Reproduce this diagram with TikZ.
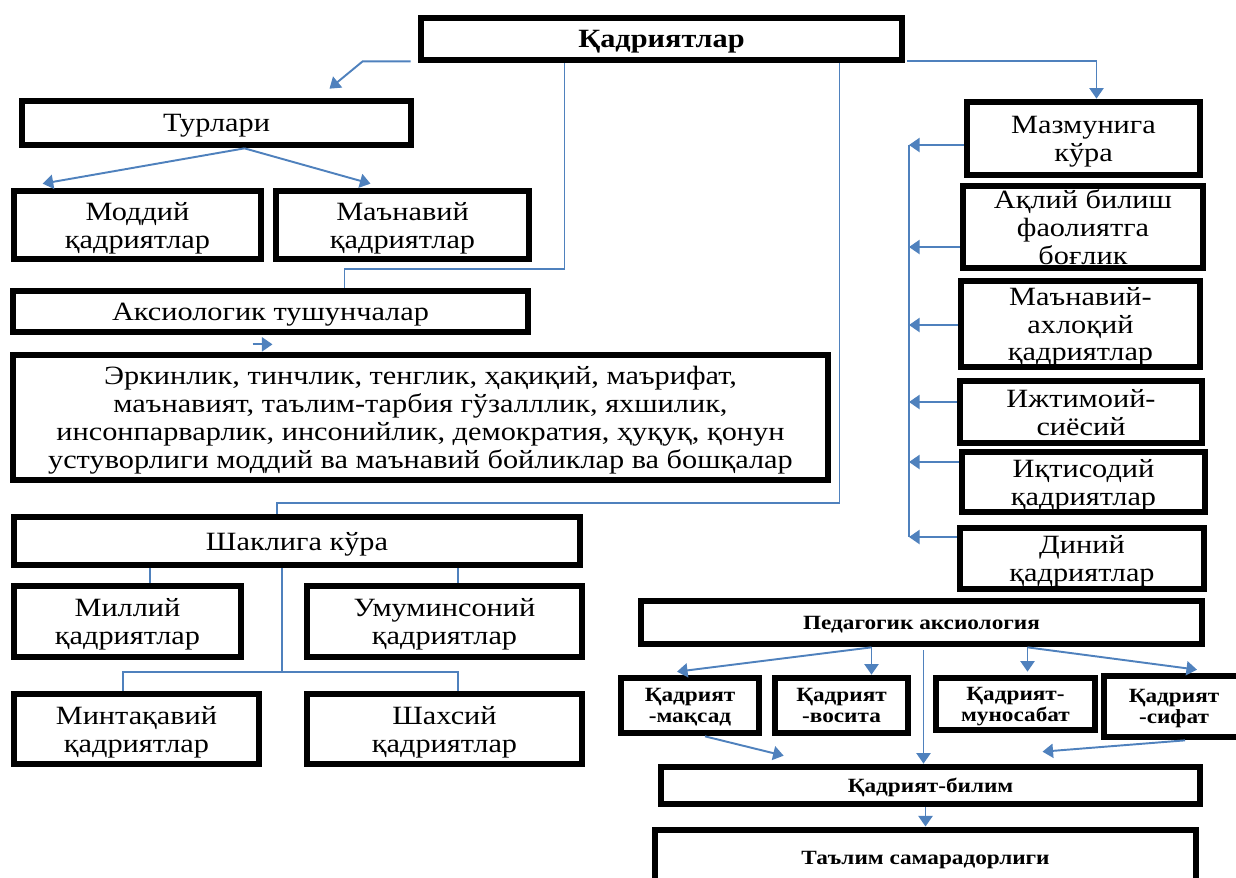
\documentclass[tikz,border=0pt]{standalone}
\usepackage{fontspec}
\setmainfont{Liberation Serif}[FakeStretch=1.15]
\usepackage{tikz}
\usetikzlibrary{arrows.meta,calc}
\definecolor{linkblue}{RGB}{79,129,189}

\begin{document}
\begin{tikzpicture}[x=0.02cm,y=-0.02cm,
    box/.style={draw=black,line width=3.4pt,fill=white,align=center,inner sep=0pt,text depth=0pt,
        font=\fontsize{15}{15.9}\selectfont},
    sz/.style 2 args={minimum width=#1*0.02cm,minimum height=#2*0.02cm},
    small/.style={box,font=\fontsize{11.5}{12}\selectfont\bfseries},
    link/.style={draw=linkblue,line width=1.1pt},
    arr/.style={link,-{Triangle[width=8pt,length=6pt]}}]
\useasboundingbox (0,0) rectangle (1236,877);

\node[box,sz={481.7}{42.7},font=\fontsize{15}{16}\selectfont\bfseries] (top) at (661.5,39) {Қадриятлар};
\node[box,sz={389.7}{44.7}] (turlari) at (216.5,123) {Турлари};
\node[box,sz={247.7}{68.7}] (moddiy) at (137.5,225) {Моддий\\қадриятлар};
\node[box,sz={253.7}{68.7}] (manaviy) at (402.5,225) {Маънавий\\қадриятлар};
\node[box,sz={515.7}{41.7}] (aksio) at (270.5,311.5) {Аксиологик тушунчалар};
\node[box,sz={815.7}{125.7}] (values) at (420.5,417.5) {Эркинлик, тинчлик, тенглик, ҳақиқий, маърифат,\\
    маънавият, таълим-тарбия гўзалллик, яхшилик,\\
    инсонпарварлик, инсонийлик, демократия, ҳуқуқ, қонун\\
    устуворлиги моддий ва маънавий бойликлар ва бошқалар};
\node[box,sz={566.7}{48.7}] (shakl) at (297,541) {Шаклига кўра};
\node[box,sz={227.7}{71.7}] (milliy) at (127.5,621.5) {Миллий\\қадриятлар};
\node[box,sz={275.7}{71.7}] (umum) at (444.5,621.5) {Умуминсоний\\қадриятлар};
\node[box,sz={245.7}{70.7}] (mintaq) at (136.5,729) {Минтақавий\\қадриятлар};
\node[box,sz={275.7}{70.7}] (shaxs) at (444.5,729) {Шахсий\\қадриятлар};

\node[box,sz={233.7}{73.7}] (mazmun) at (1083.5,138.5) {Мазмунига\\кўра};
\node[box,sz={240.7}{82.7}] (aqliy) at (1083,227) {Ақлий билиш\\фаолиятга\\боғлик};
\node[box,sz={239.7}{86.7}] (axloq) at (1080.5,324) {Маънавий-\\ахлоқий\\қадриятлар};
\node[box,sz={242.7}{62.7}] (ijtim) at (1081,412) {Ижтимоий-\\сиёсий};
\node[box,sz={243.7}{60.7}] (iqtis) at (1083.5,482) {Иқтисодий\\қадриятлар};
\node[box,sz={244.7}{61.7}] (diniy) at (1082,558.5) {Диний\\қадриятлар};

\node[small,sz={561.7}{43.7}] (pedag) at (921.5,622.5) {Педагогик аксиология};
\node[small,sz={138.7}{55.7}] (maqsad) at (690,705.5) {Қадрият\\-мақсад};
\node[small,sz={133.7}{55.7}] (vosita) at (841.5,705.5) {Қадрият\\-восита};
\node[small,sz={159.7}{52.7}] (munos) at (1015.5,704) {Қадрият-\\муносабат};
\node[small,sz={140}{61.7}] (sifat) at (1174,706.5) {Қадрият\\-сифат};
\node[small,sz={539.7}{37.7}] (bilim) at (930.5,785.5) {Қадрият-билим};
\node[small,sz={541.7}{57}] (samara) at (925.5,858) {Таълим самарадорлиги};

\draw[arr] ($(top.south west)+(-7,-2)$) -- ++(-48,0) -- ($(turlari.north)+(113,-9)$);
\draw[arr] ($(turlari.south)+(28,0)$) -- ($(moddiy.north west)+(32,-4)$);
\draw[arr] ($(turlari.south)+(28,0)$) -- ($(manaviy.north)+(-32,-4)$);
\draw[link] ($(top.south)+(-97,0)$) |- ($(aksio.north)+(74,-19)$) -- ($(aksio.north)+(74,0)$);
\draw[arr] ($(aksio.south)+(-18,9)$) -- ++(20,0);
\draw[link] ($(top.south)+(178,0)$) |- ($(shakl.north)+(-20,-11)$) -- ($(shakl.north)+(-20,0)$);
\draw[arr] ($(top.south east)+(2,-2)$) -| ($(mazmun.north)+(13,0)$);

\coordinate (bustop) at (909,145);
\coordinate (busend) at (909,537);
\draw[link] (bustop) -- (busend);
\foreach \b/\dy in {mazmun/6.5,aqliy/20,axloq/1,ijtim/-10,iqtis/-20,diniy/-21.5}{
    \path ($(\b.west)+(0,\dy)$) coordinate (s);
    \draw[arr] (s) -- (s -| bustop);
}

\draw[link] ($(shakl.south west)+(139,0)$) -- ($(milliy.north west)+(139,0)$);
\draw[link] ($(shakl.south west)+(447,0)$) -- ($(umum.north west)+(154,0)$);
\draw[link] ($(shakl.south west)+(271,0)$) -- ++(0,104) -| ($(mintaq.north west)+(112,0)$);
\draw[link] ($(shakl.south west)+(271,104)$) -| ($(shaxs.north west)+(154,0)$);

\draw[arr] ($(pedag.south)+(-50,0)$) -- ($(maqsad.north)+(-13,-3)$);
\draw[arr] ($(pedag.south)+(-50,0)$) -- ($(vosita.north)+(30,0)$);
\draw[arr] ($(pedag.south)+(106,0)$) -- ($(munos.north)+(12,-3)$);
\draw[arr] ($(pedag.south)+(106,0)$) -- ($(sifat.north)+(23,-3)$);
\draw[arr] ($(pedag.south)+(2,3)$) -- ($(bilim.north)+(-7,0)$);
\draw[arr] ($(maqsad.south)+(15,0)$) -- ($(bilim.north west)+(126,-8)$);
\draw[arr] ($(sifat.south)+(11,0)$) -- ($(bilim.north)+(112,-12)$);
\draw[arr] ($(bilim.south)+(-5,0)$) -- (samara.north);
\end{tikzpicture}
\end{document}
